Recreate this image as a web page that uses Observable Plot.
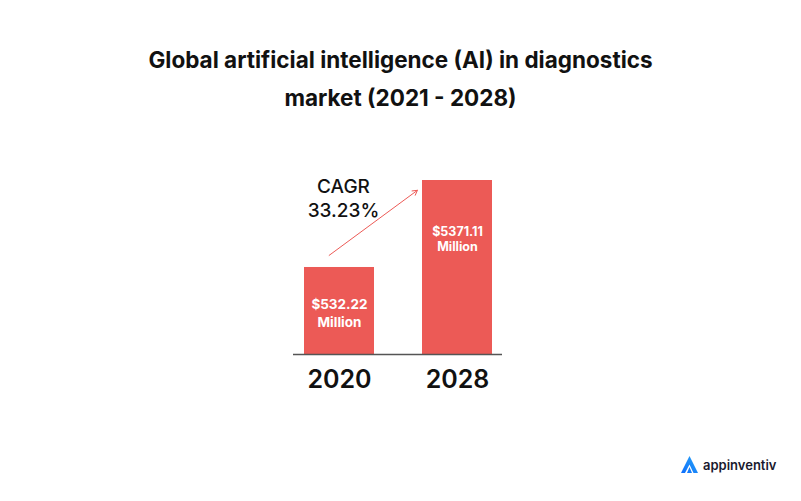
<!DOCTYPE html>
<html>
<head>
<meta charset="utf-8">
<script src="https://cdn.jsdelivr.net/npm/d3@7"></script>
<script src="https://cdn.jsdelivr.net/npm/@observablehq/plot@0.6"></script>
<style>
  html, body { margin: 0; padding: 0; background: #fff; }
  #wrap { position: relative; width: 801px; height: 501px; overflow: hidden; font-family: Inter, "Open Sans", sans-serif; }
  #title { position: absolute; left: 0; top: 41px; width: 801px; text-align: center; font-weight: 700; font-size: 22.5px; line-height: 38px; color: #111; }
  #chart { position: absolute; left: 0; top: 0; }
  #logo { position: absolute; left: 681px; top: 456px; display: flex; align-items: center; gap: 5px; font-family: Inter, sans-serif; font-weight: 600; font-size: 13px; color: #1a1a2e; }
</style>
</head>
<body>
<div id="wrap">
  <div id="chart"></div>
  <div id="title">Global artificial intelligence (AI) in diagnostics<br>market (2021 - 2028)</div>
  <div id="logo">
    <svg width="17" height="17" viewBox="0 0 17 17">
      <defs><linearGradient id="lg" x1="0" y1="1" x2="1" y2="0"><stop offset="0" stop-color="#0d6efd"/><stop offset="1" stop-color="#29a3f5"/></linearGradient></defs>
      <path d="M8.5 0 L17 17 L12.5 17 L8.5 8.5 L4 17 L0 17 Z M8.5 11 L11 17 L6 17 Z" fill="url(#lg)"/>
    </svg>
    <span>appinventiv</span>
  </div>
</div>
<script>
const years = ["2020", "2028"];
const values = [532.22, 5371.11];
const valueLabels = ["$532.22\nMillion", "$5371.11\nMillion"];
const cagrLabel = "CAGR\n33.23%";

const data = years.map((y, i) => ({year: y, value: values[i], label: valueLabels[i]}));
const baseValue = 52.7;
const barColor = "#ec5a56";

const chart = Plot.plot({
  width: 801,
  height: 501,
  marginLeft: 293,
  marginRight: 299,
  marginTop: 0,
  marginBottom: 147,
  style: {fontFamily: "Inter, 'Open Sans', sans-serif", background: "transparent"},
  x: {domain: years, paddingInner: 0.41, paddingOuter: 0.09},
  y: {type: "log", domain: [baseValue, 5371.11], range: [354, 180], axis: null},
  marks: [
    Plot.barY(data, {x: "year", y1: baseValue, y2: "value", fill: barColor}),
    Plot.ruleY([baseValue], {stroke: "#555", strokeWidth: 1.5}),
    Plot.axisX({tickSize: 0, tickPadding: 16, fontSize: 25, fontWeight: 600, fill: "#111", color: "#111"}),
    Plot.text(data.slice(0, 1), {x: "year", y: "value", text: "label", dy: 45, fontSize: 13.5, fontWeight: 700, fill: "#fff", lineHeight: 1.3}),
    Plot.text(data.slice(1), {x: "year", y: "value", text: "label", dy: 58, fontSize: 12.5, fontWeight: 700, fill: "#fff", lineHeight: 1.25}),
    Plot.arrow([{x1: years[0], y1: values[0], x2: years[1], y2: values[1]}], {
      x1: "x1", y1: "y1", x2: "x2", y2: "y2", dx: -20, dy: -5, insetStart: 12, insetEnd: 25,
      stroke: barColor, strokeWidth: 1, headLength: 8, bend: 0
    }),
    Plot.text([cagrLabel], {x: () => years[0], y: () => values[0], text: d => d, dx: 4, dy: -50, lineAnchor: "bottom", fontSize: 19, fontWeight: 500, fill: "#111", lineHeight: 1.3})
  ]
});
document.getElementById("chart").appendChild(chart);
</script>
</body>
</html>
